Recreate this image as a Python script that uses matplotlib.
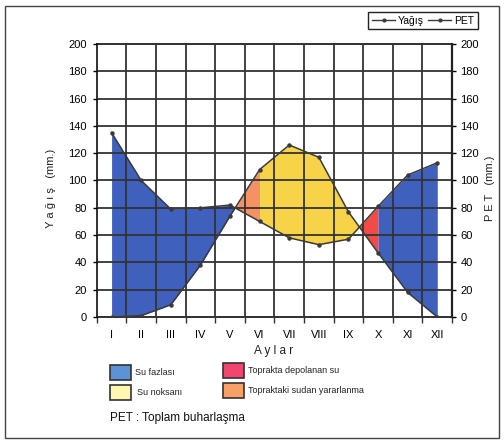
import numpy as np
import matplotlib.pyplot as plt
from matplotlib.lines import Line2D
from matplotlib.patches import Rectangle

plt.rcParams['font.family'] = ['Liberation Sans', 'DejaVu Sans']

#%% Data
months = ['I', 'II', 'III', 'IV', 'V', 'VI', 'VII', 'VIII', 'IX', 'X', 'XI', 'XII']
yagis = [135, 100, 79, 80, 82, 70, 58, 53, 57, 81, 104, 113]   # precipitation (mm)
pet = [0, 1, 9, 38, 74, 108, 126, 117, 77, 47, 18, 0]          # potential evapotranspiration (mm)

area_labels = ['Su fazlası', 'Su noksanı', 'Toprakta depolanan su', 'Topraktaki sudan yararlanma']

#%% Colours
c_blue = '#3f61bd'
c_yellow = '#f7d447'
c_red = '#f14b48'
c_orange = '#f59163'
leg_cols = ['#5b93d9', '#fff7b0', '#f2456f', '#f7a166']
line_col = '#3a3a3a'

x = np.arange(len(months)) + 0.5
P = np.array(yagis, dtype=float)
E = np.array(pet, dtype=float)

fig = plt.figure(figsize=(5.04, 4.44), dpi=100)
ax = fig.add_axes([0.192, 0.286, 0.705, 0.615])

# filled areas (split at VI and X, crossings found by interpolate=True)
ax.fill_between(x[0:6], P[0:6], E[0:6], where=P[0:6] >= E[0:6], interpolate=True,
                color=c_blue, lw=0, zorder=1)
ax.fill_between(x[4:6], P[4:6], E[4:6], where=E[4:6] >= P[4:6], interpolate=True,
                color=c_orange, lw=0, zorder=1)
ax.fill_between(x[5:10], P[5:10], E[5:10], where=E[5:10] >= P[5:10], interpolate=True,
                color=c_yellow, lw=0, zorder=1)
ax.fill_between(x[8:10], P[8:10], E[8:10], where=P[8:10] >= E[8:10], interpolate=True,
                color=c_red, lw=0, zorder=1)
ax.fill_between(x[9:], P[9:], E[9:], color=c_blue, lw=0, zorder=1)

ax.plot(x, P, color=line_col, lw=1.1, marker='o', ms=2.2, zorder=3)
ax.plot(x, E, color=line_col, lw=1.1, marker='o', ms=2.2, zorder=3)

ax.set_xlim(0, 12)
ax.set_ylim(0, 200)
ax.set_xticks(np.arange(13))
ax.set_xticklabels([])
ax.set_xticks(x, minor=True)
ax.set_xticklabels(months, minor=True)
ax.tick_params(axis='x', which='minor', length=0, pad=9, labelsize=8)
ax.tick_params(axis='x', which='major', length=4, width=1, color='#333333', direction='out')
ax.set_yticks(np.arange(0, 201, 20))
ax.tick_params(axis='y', length=3, width=1, labelsize=8, pad=4)
ax.grid(True, which='major', color='#333333', lw=1.3, zorder=2)
ax.set_axisbelow(False)
for s in ax.spines.values():
    s.set_color('#222222')
    s.set_linewidth(1.3)

ax2 = ax.twinx()
ax2.set_ylim(0, 200)
ax2.set_yticks(np.arange(0, 201, 20))
ax2.tick_params(axis='y', length=3, width=1, labelsize=8, pad=3)
for s in ax2.spines.values():
    s.set_visible(False)
ax2.spines['right'].set_visible(True)
ax2.spines['right'].set_color('#222222')
ax2.spines['right'].set_linewidth(1.6)

# axis titles
fig.text(51 / 504, 1 - 188 / 444, 'Y a ğ ı ş   (mm.)', rotation=90, ha='center', va='center',
         fontsize=8, color='#222222')
fig.text(490 / 504, 1 - 188 / 444, 'P E T   (mm.)', rotation=90, ha='center', va='center',
         fontsize=8, color='#222222')
fig.text(274 / 504, 1 - 351 / 444, 'A y l a r', ha='center', va='center', fontsize=8.5,
         color='#222222')

# line legend
handles = [Line2D([0], [0], color=line_col, lw=1, marker='o', ms=2),
           Line2D([0], [0], color=line_col, lw=1, marker='o', ms=2)]
leg = fig.legend(handles, ['Yağış', 'PET'], loc='upper right', bbox_to_anchor=(478 / 504, 1 - 12 / 444),
                 ncol=2, fontsize=7.5, frameon=True, fancybox=False, framealpha=1,
                 edgecolor='#222222', handlelength=2.2, handletextpad=0.3, columnspacing=0.4,
                 borderpad=0.35, borderaxespad=0)
leg.get_frame().set_linewidth(1.0)

# area legend
W, H = 503.0, 444.0
patch_pos = [(110, 365), (110, 385), (223, 363), (223, 383)]
text_pos = [(135, 372), (137, 392), (248, 370), (248, 390)]
for (px, py), (tx, ty), col, lab in zip(patch_pos, text_pos, leg_cols, area_labels):
    fig.patches.append(Rectangle((px / 504, 1 - (py + 15) / H), 21 / 504, 15 / H,
                                 transform=fig.transFigure, facecolor=col,
                                 edgecolor='#333333', lw=1.2))
    fig.text(tx / 504, 1 - ty / H, lab, ha='left', va='center', fontsize=6.5, color='#222222')

fig.text(110 / 504, 1 - 418 / H, 'PET : Toplam buharlaşma', ha='left', va='center',
         fontsize=8.5, color='#111111')

# outer frame
fig.patches.append(Rectangle((5 / 504, 6 / H), 494 / 504, 432 / H, transform=fig.transFigure,
                             fill=False, edgecolor='#444444', lw=1.0))

fig.savefig('out.png', dpi=100)
